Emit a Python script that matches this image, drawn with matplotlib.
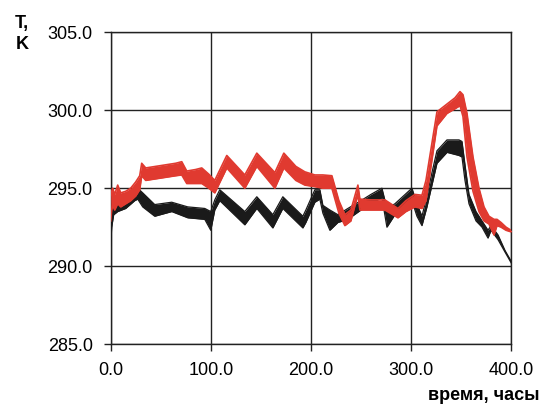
import matplotlib
matplotlib.use("Agg")
import matplotlib.pyplot as plt
from matplotlib.ticker import FormatStrFormatter

plt.rcParams['font.family'] = ['Liberation Sans', 'DejaVu Sans']

# красная кривая: время (часы), верхняя и нижняя граница полосы (K)
t_red = [0, 1, 2, 4, 7, 10, 15, 20, 25, 29, 31, 35, 45, 55, 65, 71, 76, 85, 91,
         98, 104, 116, 134, 146, 164, 173, 185, 194, 204, 212, 221, 228, 234,
         240, 247, 249, 260, 274, 287, 295, 304, 311, 315, 326, 336, 344, 349,
         352, 356, 362, 368, 373, 378, 383, 386, 390, 395, 400, 408]
hi_red = [294.3, 294.8, 295.0, 294.6, 295.2, 294.7, 294.8, 295.0, 295.4, 295.8,
          296.6, 296.3, 296.4, 296.5, 296.6, 296.7, 296.1, 296.2, 296.3, 295.9,
          295.5, 297.1, 295.85, 297.25, 296.0, 297.25, 296.4, 296.05, 295.85,
          295.85, 295.8, 294.2, 293.3, 293.6, 295.2, 294.3, 294.25, 294.25,
          293.7, 294.2, 294.6, 294.55, 295.5, 299.9, 300.4, 300.8, 301.2,
          301.0, 299.8, 297.0, 295.0, 293.8, 293.2, 293.0, 293.0, 292.8,
          292.5, 292.3, 292.2]
lo_red = [292.9, 293.6, 293.9, 293.6, 294.0, 293.8, 294.0, 294.2, 294.5, 294.9,
          295.8, 295.5, 295.6, 295.7, 295.8, 295.85, 295.3, 295.3, 295.3, 295.0,
          294.7, 296.3, 295.0, 296.4, 295.0, 296.3, 295.5, 295.2, 295.1,
          295.0, 295.0, 293.4, 292.6, 292.9, 294.6, 293.6, 293.6, 293.6,
          293.1, 293.5, 293.8, 293.7, 294.2, 299.0, 299.8, 300.1, 300.3,
          299.6, 297.0, 294.8, 293.5, 292.9, 292.7, 292.0, 292.6, 292.5,
          292.3, 292.2, 292.1]

# черная кривая
t_blk = [0, 1, 3, 7, 15, 24, 27, 32, 44, 61, 77, 94, 100, 104, 109, 134, 146,
         162, 172, 192, 195, 204, 209, 212, 219, 227, 237, 250, 260, 271, 276,
         284, 301, 306, 311, 316, 321, 326, 336, 348, 351, 354, 358, 365, 371,
         377, 380, 387, 394, 402, 407]
hi_blk = [292.5, 294.0, 293.9, 294.05, 294.2, 294.7, 295.0, 294.7, 293.95,
          294.1, 293.8, 293.7, 293.5, 294.25, 294.9, 293.5, 294.45, 293.3,
          294.45, 293.2, 293.6, 294.9, 294.9, 293.9, 293.6, 293.3, 293.7,
          294.2, 294.6, 295.0, 293.7, 294.0, 295.0, 294.0, 293.2, 294.5,
          296.0, 297.4, 298.1, 298.1, 298.0, 296.5, 294.6, 293.5, 292.9,
          292.3, 292.6, 292.0, 291.0, 290.1, 289.7]
lo_blk = [291.3, 292.5, 293.3, 293.5, 293.7, 294.2, 294.3, 293.8, 293.2,
          293.5, 293.1, 293.0, 292.3, 293.6, 294.2, 292.65, 293.7, 292.45,
          293.7, 292.45, 292.8, 294.1, 294.3, 293.4, 292.3, 292.8, 293.0,
          293.6, 294.0, 294.4, 292.5, 293.3, 294.2, 293.2, 292.6, 293.8,
          295.2, 296.6, 297.3, 297.1, 297.0, 295.5, 294.0, 292.9, 292.5,
          291.8, 292.3, 291.7, 290.9, 290.0, 289.6]

x_ticks = [0, 100, 200, 300, 400]
y_ticks = [285, 290, 295, 300, 305]

fig = plt.figure(figsize=(5.41, 4.05), dpi=100)
ax = fig.add_axes([0.2046, 0.1506, 0.74, 0.7694])

c_blk = '#1a1a1a'
c_red = '#e03a30'
ax.fill_between(t_blk, lo_blk, hi_blk, color=c_blk, lw=0, zorder=3)
ax.plot(t_blk, hi_blk, color=c_blk, lw=0.9, zorder=3)
ax.plot(t_blk, lo_blk, color=c_blk, lw=0.9, zorder=3)
ax.fill_between(t_red, lo_red, hi_red, color=c_red, lw=0, zorder=4)
ax.plot(t_red, hi_red, color=c_red, lw=1.2, zorder=4)
ax.plot(t_red, lo_red, color=c_red, lw=1.2, zorder=4)

ax.set_xlim(0, 400)
ax.set_ylim(285, 305)
ax.set_xticks(x_ticks)
ax.set_yticks(y_ticks)
ax.xaxis.set_major_formatter(FormatStrFormatter('%.1f'))
ax.yaxis.set_major_formatter(FormatStrFormatter('%.1f'))
ax.tick_params(direction='out', length=5, width=1, labelsize=13, color='#222222')
ax.tick_params(axis='x', pad=8)
ax.tick_params(axis='y', pad=8)
ax.grid(True, color='#222222', lw=1)
ax.set_axisbelow(True)
for s in ax.spines.values():
    s.set_color('#222222')
    s.set_linewidth(1)

fig.text(22 / 541, 1 - 15 / 405, 'T,\nK', ha='center', va='top',
         fontsize=13, fontweight='bold', linespacing=1.3)
fig.text(540 / 541, 1 - 395 / 405, 'время, часы', ha='right', va='center',
         fontsize=13, fontweight='bold')

fig.savefig('out.png', dpi=100)
